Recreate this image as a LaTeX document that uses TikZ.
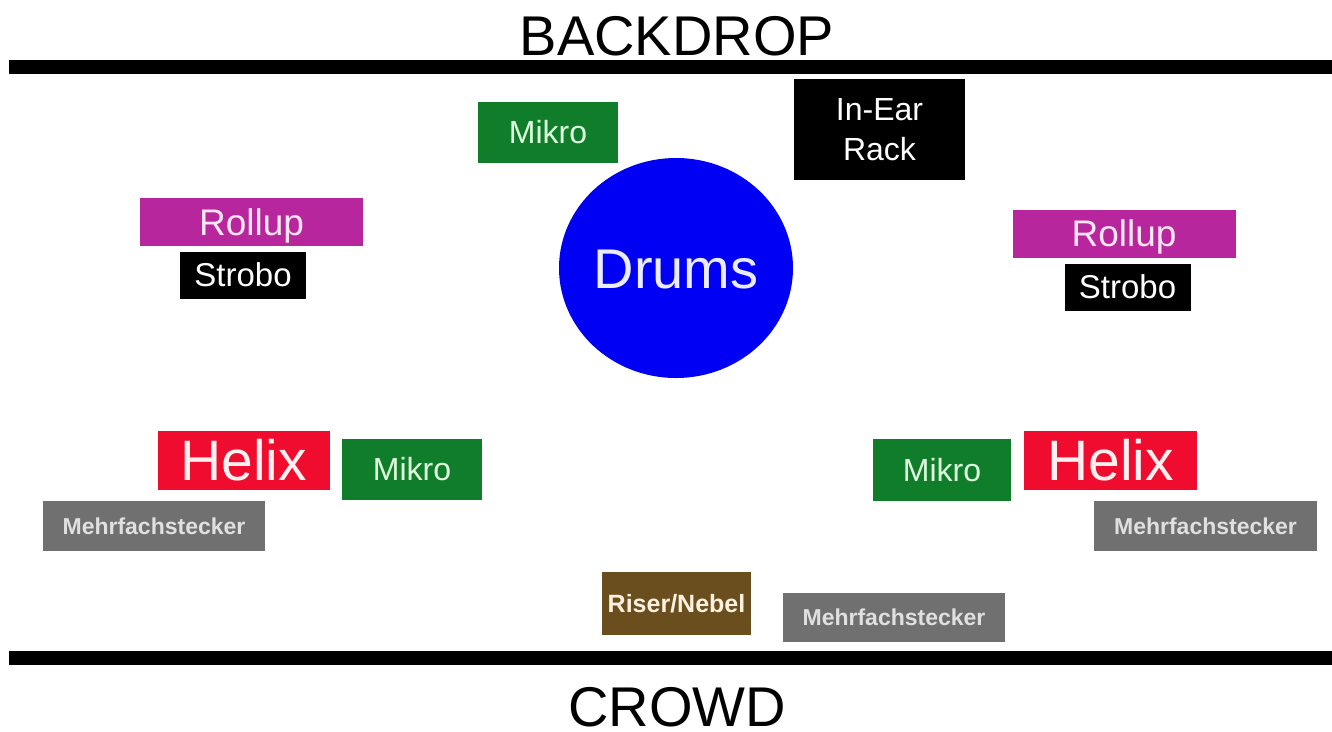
\documentclass[tikz,border=0pt]{standalone}
\usepackage{fontspec}
\setmainfont{Liberation Sans}
\usetikzlibrary{shapes.geometric}
\definecolor{mgreen}{RGB}{16,125,42}
\definecolor{mmag}{RGB}{184,38,158}
\definecolor{mred}{RGB}{240,12,46}
\definecolor{mgray}{RGB}{112,112,112}
\definecolor{mbrown}{RGB}{107,78,30}
\definecolor{mblue}{RGB}{0,0,245}
\tikzset{
  box/.style={rectangle, inner sep=0pt, outer sep=0pt, text depth=0pt},
  mikro/.style={box, fill=mgreen, text=green!12!white, minimum width=140pt, minimum height=61pt, text height=22.9pt, font=\fontsize{32}{38}\selectfont},
  rollup/.style={box, fill=mmag, text=magenta!10!white, minimum width=223pt, minimum height=48pt, text height=26.5pt, font=\fontsize{37}{42}\selectfont},
  strobo/.style={box, fill=black, text=white, minimum width=126pt, minimum height=47pt, text height=23.6pt, font=\fontsize{33}{38}\selectfont},
  helix/.style={box, fill=mred, text=red!6!white, minimum width=172pt, minimum height=59pt, text height=40.8pt, font=\fontsize{57}{64}\selectfont},
  mehr/.style={box, fill=mgray, text=black!12!white, minimum width=222pt, minimum height=50pt, text height=16.5pt, font=\fontsize{23}{28}\selectfont\bfseries},
  label/.style={inner sep=0pt, anchor=base, font=\fontsize{56}{60}\selectfont},
  bar/.style={fill=black}
}
\begin{document}
\begin{tikzpicture}[x=1pt,y=-1pt]
\useasboundingbox (0,0) rectangle (1332,731);
\fill[white] (0,0) rectangle (1332,731);
% stage edges
\fill[bar] (9,60) rectangle (1332,74);
\fill[bar] (9,651) rectangle (1332,665);
\node[label] (backdrop) at (677,55) {BACKDROP};
\node[label] (crowd) at (677,726) {CROWD};
% drums
\node[ellipse, fill=mblue, text=blue!8!white, minimum width=234pt, minimum height=220pt, inner sep=0pt, text height=40.1pt, text depth=0pt, font=\fontsize{56}{64}\selectfont] (drums) at (676,268) {Drums};
% top items
\node[mikro] (mikroT) at (548,132) {Mikro};
\node[rectangle, fill=black, text=white, inner sep=0pt, minimum width=171pt, minimum height=101pt, align=center, font=\fontsize{32}{40}\selectfont] (inear) at (879.5,129.5) {In-Ear\\Rack};
% rollups and strobes
\node[rollup] (rollL) at (251.5,222) {Rollup};
\node[strobo] (strobL) at (243,275) {Strobo};
\node[rollup] (rollR) at (1124,233.5) {Rollup};
\node[strobo] (strobR) at (1127.5,287) {Strobo};
% front left
\node[helix] (helixL) at (243.5,460.5) {Helix};
\node[mikro] (mikroL) at (412,469.5) {Mikro};
\node[mehr] (mehrL) at (154,526) {Mehrfachstecker};
% front right
\node[mikro, minimum width=138pt, minimum height=62pt] (mikroR) at (942,470) {Mikro};
\node[helix, minimum width=173pt] (helixR) at (1110.5,460.5) {Helix};
\node[mehr, minimum width=223pt] (mehrR) at (1205.5,526) {Mehrfachstecker};
% front center
\node[box, fill=mbrown, text=orange!12!white, minimum width=149pt, minimum height=63pt, text height=17.9pt, font=\fontsize{25}{28}\selectfont\bfseries] (riser) at (676.5,603.5) {Riser/Nebel};
\node[mehr, minimum height=49pt] (mehrB) at (894,617.5) {Mehrfachstecker};
\end{tikzpicture}
\end{document}
